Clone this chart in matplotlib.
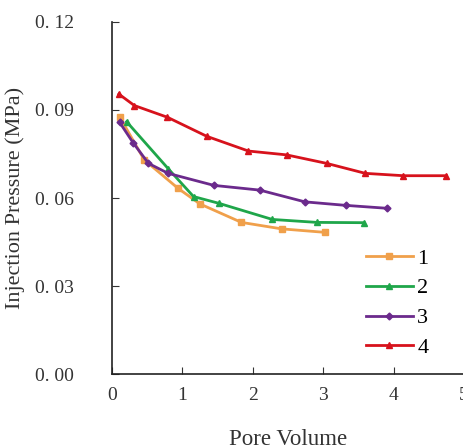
import matplotlib
matplotlib.use("Agg")
import matplotlib.pyplot as plt
from matplotlib.ticker import FuncFormatter

plt.rcParams['font.family'] = ['Liberation Serif', 'DejaVu Serif']

# series 1
pv1 = [0.11, 0.46, 0.94, 1.25, 1.84, 2.41, 3.03]
p1 = [0.0877, 0.0730, 0.0633, 0.0580, 0.0517, 0.0495, 0.0483]
# series 2
pv2 = [0.21, 0.80, 1.16, 1.52, 2.28, 2.91, 3.58]
p2 = [0.0860, 0.0700, 0.0605, 0.0582, 0.0527, 0.0517, 0.0516]
# series 3
pv3 = [0.11, 0.30, 0.52, 0.80, 1.45, 2.10, 2.74, 3.32, 3.91]
p3 = [0.0858, 0.0789, 0.0718, 0.0684, 0.0643, 0.0627, 0.0587, 0.0575, 0.0565]
# series 4
pv4 = [0.10, 0.32, 0.79, 1.35, 1.94, 2.48, 3.05, 3.60, 4.14, 4.75]
p4 = [0.0954, 0.0915, 0.0875, 0.0810, 0.0760, 0.0747, 0.0718, 0.0684, 0.0676, 0.0676]

fig = plt.figure(figsize=(4.64, 4.46), dpi=100)
ax = fig.add_axes([0.241, 0.161, 0.759, 0.79])

ax.plot(pv1, p1, color='#F0A04B', lw=2, marker='s', ms=5, label='1')
ax.plot(pv2, p2, color='#1FA64A', lw=2, marker='^', ms=5, label='2')
ax.plot(pv3, p3, color='#6B2A8C', lw=2, marker='D', ms=3.5, label='3')
ax.plot(pv4, p4, color='#D7121C', lw=2, marker='^', ms=5, label='4')

ax.set_xlim(0, 5)
ax.set_ylim(0, 0.12)
ax.set_xticks([0, 1, 2, 3, 4, 5])
ax.set_yticks([0, 0.03, 0.06, 0.09, 0.12])
ax.yaxis.set_major_formatter(FuncFormatter(lambda v, _: f"{v:.2f}".replace('.', '. ')))
ax.tick_params(direction='in', length=5, labelsize=14, colors='#333333')
ax.tick_params(axis='x', pad=9)
ax.tick_params(axis='y', pad=27)
for s in ['top', 'right']:
    ax.spines[s].set_visible(False)
for s in ['left', 'bottom']:
    ax.spines[s].set_linewidth(1.2)
    ax.spines[s].set_color('#222222')

ax.set_xlabel("Pore Volume", fontsize=16.5, color='#333333', labelpad=18)
ax.set_ylabel("Injection Pressure (MPa)", fontsize=16, color='#333333', labelpad=7)

ax.legend(loc='upper left', bbox_to_anchor=(0.665, 0.415), frameon=False,
          fontsize=16, handlelength=2.1, handletextpad=0.2, labelspacing=0.42)

fig.savefig("out.png", dpi=100)
